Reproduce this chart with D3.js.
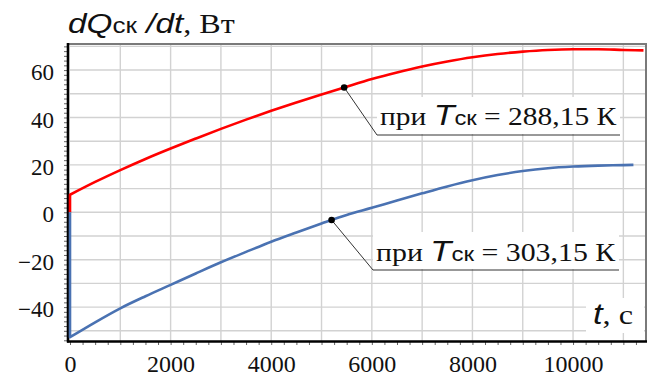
<!DOCTYPE html>
<html>
<head>
<meta charset="utf-8">
<script src="https://cdn.jsdelivr.net/npm/d3@7"></script>
<style>
  html, body { margin: 0; padding: 0; background: #fff; }
  svg { display: block; }
</style>
</head>
<body>
<svg id="chart" width="653" height="380"></svg>
<script>
// Heat flow into the collector vs time, two collector temperatures
const timeHot = [0, 0, 500, 1000, 1500, 2000, 2500, 3000, 3500, 4000, 4500, 5000, 5500,
                 6000, 6500, 7000, 7500, 8000, 8500, 9000, 9500, 10000, 10500, 11000, 11400];
const flow288 = [0, 7.4, 12.8, 17.8, 22.5, 26.9, 31.1, 35.2, 39.1, 42.8, 46.3, 49.7, 53.0,
                 56.2, 59.0, 61.5, 63.6, 65.4, 66.8, 67.8, 68.5, 68.8, 68.8, 68.5, 68.3];

const timeCold = [0, 0, 500, 1000, 1500, 2000, 2500, 3000, 3500, 4000, 4500, 5000, 5500,
                  6000, 6500, 7000, 7500, 8000, 8500, 9000, 9500, 10000, 10500, 11000, 11200];
const flow303 = [0, -52.7, -46.4, -40.5, -35.4, -30.6, -25.8, -21.1, -16.7, -12.4, -8.5, -4.7, -1.1,
                 1.9, 5.0, 8.0, 10.9, 13.5, 15.7, 17.4, 18.6, 19.3, 19.7, 19.9, 20.0];

const seriesTemps = ["288,15", "303,15"];
const markerTimes = [5450, 5200];

const xTicks = [0, 2000, 4000, 6000, 8000, 10000];
const yTicks = [-40, -20, 0, 20, 40, 60];
const xDomain = [0, 11450];
const yDomain = [-54.3, 71];

const svg = d3.select("#chart");
const W = 653, H = 380;
const m = { left: 69, right: 7, top: 44, bottom: 39 };
const x = d3.scaleLinear().domain(xDomain).range([m.left + 1, W - m.right]);
const y = d3.scaleLinear().domain(yDomain).range([H - m.bottom, m.top]);

const serif = "'Liberation Serif', 'Times New Roman', serif";
const sans = "'Liberation Sans', Arial, sans-serif";

// grid
const grid = svg.append("g");
grid.selectAll("line.v").data(d3.range(1000, 11001, 1000)).join("line")
  .attr("x1", d => x(d)).attr("x2", d => x(d))
  .attr("y1", y.range()[1]).attr("y2", y.range()[0])
  .attr("stroke", "#d2d2d2").attr("stroke-width", 1.4);
grid.selectAll("line.h").data(d3.range(-50, 71, 10)).join("line")
  .attr("y1", d => y(d)).attr("y2", d => y(d))
  .attr("x1", x.range()[0]).attr("x2", x.range()[1])
  .attr("stroke", "#d2d2d2").attr("stroke-width", 1.4);

// frame (top and right)
svg.append("path")
  .attr("d", `M${m.left},${m.top}H${W - m.right}V${H - m.bottom}`)
  .attr("fill", "none").attr("stroke", "#7a7a7a").attr("stroke-width", 2);

// minor ticks
const minorX = d3.axisBottom(x).tickValues(d3.range(0, 11451, 250)).tickSize(4).tickFormat("");
const minorY = d3.axisLeft(y).tickValues(d3.range(-54, 71, 2)).tickSize(4).tickFormat("");
svg.append("g").attr("transform", `translate(0,${H - m.bottom})`).call(minorX)
  .call(g => g.select(".domain").remove())
  .call(g => g.selectAll("line").attr("stroke", "#666"));
svg.append("g").attr("transform", `translate(${m.left - 1},0)`).call(minorY)
  .call(g => g.select(".domain").remove())
  .call(g => g.selectAll("line").attr("stroke", "#666"));

// labelled axes
const xAxis = d3.axisBottom(x).tickValues(xTicks).tickSize(0).tickPadding(14).tickFormat(d3.format("d"));
const yAxis = d3.axisLeft(y).tickValues(yTicks).tickSize(0).tickPadding(14).tickFormat(d3.format("d"));
svg.append("g").attr("transform", `translate(0,${H - m.bottom})`).call(xAxis)
  .call(g => g.select(".domain").remove())
  .call(g => g.selectAll("text").attr("font-family", serif).attr("font-size", 24).attr("fill", "#111"));
svg.append("g").attr("transform", `translate(${m.left - 1},0)`).call(yAxis)
  .call(g => g.select(".domain").remove())
  .call(g => g.selectAll("text").attr("font-family", serif).attr("font-size", 23).attr("fill", "#111").attr("dy", "0.42em"));

// main axis lines
svg.append("line").attr("x1", m.left - 1).attr("x2", m.left - 1)
  .attr("y1", m.top - 1).attr("y2", H - m.bottom + 1.5)
  .attr("stroke", "#000").attr("stroke-width", 2.6);
svg.append("line").attr("x1", m.left - 2).attr("x2", W - m.right + 1)
  .attr("y1", H - m.bottom + 0.5).attr("y2", H - m.bottom + 0.5)
  .attr("stroke", "#000").attr("stroke-width", 2.4);

// curves: a vertical start-up jump at t = 0, then a smooth run
const series = [
  { t: timeHot, q: flow288, color: "#ff0000", temp: seriesTemps[0], mt: markerTimes[0] },
  { t: timeCold, q: flow303, color: "#4a72b2", temp: seriesTemps[1], mt: markerTimes[1] }
];
const smooth = d3.line().x(d => x(d[0])).y(d => y(d[1])).curve(d3.curveMonotoneX);
series.forEach(s => {
  const pts = s.t.map((t, i) => [t, s.q[i]]);
  const run = smooth(pts.slice(1));
  const d = `M${x(pts[0][0])},${y(pts[0][1])}L` + run.slice(1);
  svg.append("path").attr("d", d)
    .attr("fill", "none").attr("stroke", s.color).attr("stroke-width", 2.6)
    .attr("stroke-linejoin", "round");
});

// rich text helper: pieces laid out as tspans, then stretched to a given width
function richText(parent, px, py, parts, width) {
  const g = parent.append("g");
  const t = g.append("text").attr("x", 0).attr("y", 0).attr("fill", "#111");
  parts.forEach(p => {
    t.append("tspan").text(p.text)
      .attr("font-family", p.family).attr("font-size", p.size)
      .attr("font-style", p.italic ? "italic" : "normal")
      .attr("dx", p.dx || 0);
  });
  const bb = t.node().getBBox();
  const sx = width ? width / bb.width : 1;
  g.attr("transform", `translate(${px - bb.x * sx},${py}) scale(${sx},1)`);
  return g;
}

// callouts: dot on curve, leader line, underlined label on white
const callouts = [
  { box: [377, 97, 243, 38], base: 125 },
  { box: [373, 232, 246, 38], base: 261 }
];
series.forEach((s, i) => {
  const c = callouts[i];
  const qAt = d3.scaleLinear().domain(s.t.slice(1)).range(s.q.slice(1))(s.mt);
  const mx = x(s.mt), my = y(qAt);
  const [bx, by, bw, bh] = c.box;
  svg.append("rect").attr("x", bx).attr("y", by).attr("width", bw).attr("height", bh - 1).attr("fill", "#fff");
  svg.append("path").attr("d", `M${mx},${my}L${bx},${by + bh}H${bx + bw}`)
    .attr("fill", "none").attr("stroke", "#333").attr("stroke-width", 1);
  svg.append("circle").attr("cx", mx).attr("cy", my).attr("r", 3.3).attr("fill", "#000");
  richText(svg, bx + 3, c.base, [
    { text: "при ", family: serif, size: 26 },
    { text: "T", family: sans, size: 30, italic: true },
    { text: "ск", family: sans, size: 21 },
    { text: " = " + s.temp + " К", family: serif, size: 26 }
  ], bw - 6);
});

// axis titles
richText(svg, 68, 33, [
  { text: "dQ", family: sans, size: 28, italic: true },
  { text: "ск", family: sans, size: 22 },
  { text: " /dt", family: sans, size: 28, italic: true },
  { text: ", Вт", family: serif, size: 27 }
], 167);

svg.append("rect").attr("x", 586).attr("y", 298).attr("width", 58).attr("height", 35).attr("fill", "#fff");
richText(svg, 593, 324, [
  { text: "t", family: sans, size: 30, italic: true },
  { text: ", с", family: serif, size: 28 }
], 40);
</script>
</body>
</html>
